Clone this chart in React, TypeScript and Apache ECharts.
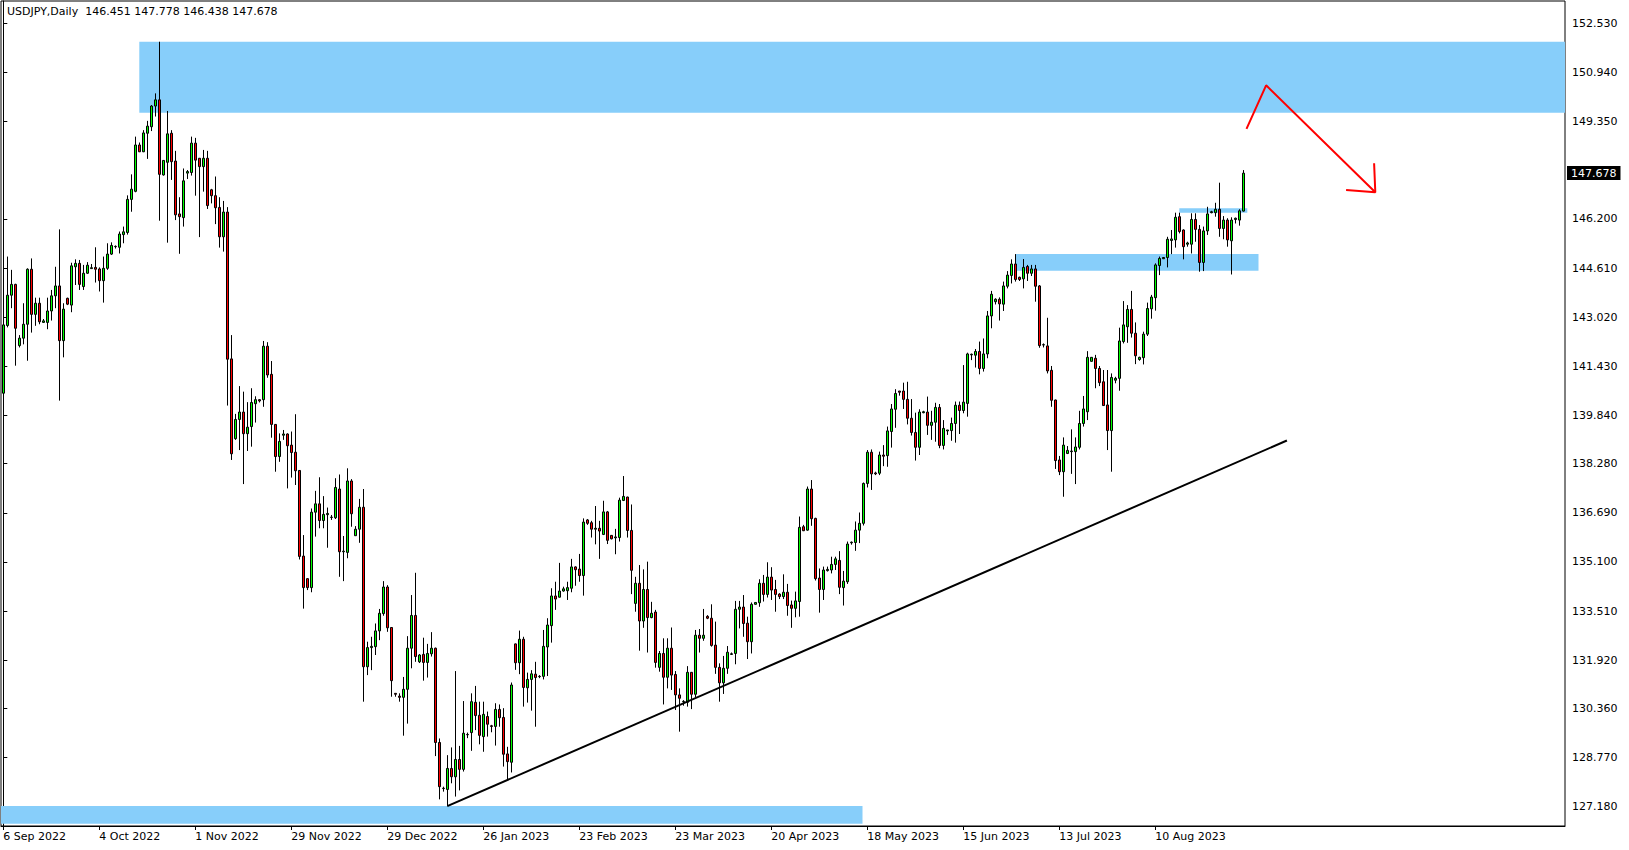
import React, { useEffect, useRef } from 'react';
import * as echarts from 'echarts';

// Date tick labels, one every 24 daily bars (broker has Sunday bars)
const dateLabels = ['6 Sep 2022', '4 Oct 2022', '1 Nov 2022', '29 Nov 2022', '29 Dec 2022', '26 Jan 2023', '23 Feb 2023', '23 Mar 2023', '20 Apr 2023', '18 May 2023', '15 Jun 2023', '13 Jul 2023', '10 Aug 2023'];
const barsPerLabel = 24;

// Price tick labels on the right axis (147.760 is hidden by the last-price box)
const priceTicks = ['152.530', '150.940', '149.350', '146.200', '144.610', '143.020', '141.430', '139.840', '138.280', '136.690', '135.100', '133.510', '131.920', '130.360', '128.770', '127.180'];

const titleText = 'USDJPY,Daily  146.451 147.778 146.438 147.678';
const lastPrice = 147.678;

const open = [
140.56,142.75,143.73,144.08,142.10,142.34,142.79,144.57,143.11,143.47,142.85,142.85,143.22,143.71,144.03,142.26,143.63,143.41,144.65,144.76,
144.01,144.44,144.59,144.63,144.58,144.20,144.60,145.06,145.30,145.28,145.69,145.76,146.83,147.09,148.59,148.37,148.97,149.18,149.85,150.05,
147.62,148.03,148.97,148.07,146.36,146.24,147.68,147.70,148.65,148.16,147.89,148.16,147.14,146.95,146.57,145.62,146.42,141.67,139.09,139.71,
139.95,139.25,139.48,140.22,140.35,140.35,142.08,141.17,139.55,138.51,139.20,139.24,138.88,138.65,138.06,135.29,134.56,134.27,136.71,136.98,
136.44,136.63,136.54,136.53,137.46,135.43,135.41,137.72,135.95,136.16,136.87,131.71,132.33,132.36,132.87,133.43,134.29,132.98,130.85,130.76,
130.72,130.98,132.31,133.37,131.87,132.11,131.85,132.13,132.31,129.26,127.77,127.74,128.42,128.15,128.71,128.39,129.51,129.58,130.56,130.14,
129.45,130.10,129.80,129.78,130.33,130.07,128.89,128.62,132.45,131.84,132.60,131.03,131.30,131.47,131.39,131.40,132.35,133.04,134.00,133.96,
134.16,134.17,134.25,134.94,134.87,134.66,136.46,136.37,136.16,136.19,135.99,136.72,135.96,135.88,135.89,137.09,137.20,136.12,133.76,134.41,
133.19,134.21,133.30,133.48,131.69,132.14,131.37,132.31,131.46,130.80,130.58,130.56,131.53,130.82,132.73,132.63,133.34,133.28,132.41,131.69,
131.19,131.66,132.11,132.14,133.57,133.64,133.12,132.52,133.73,133.78,134.41,134.05,134.61,134.21,134.06,133.98,134.12,133.71,133.60,133.82,
136.24,136.13,137.46,136.51,134.58,134.21,134.82,134.84,135.02,135.15,134.27,134.46,135.72,135.73,136.13,136.35,137.64,138.65,137.98,137.97,
138.56,138.54,139.32,140.04,140.63,140.63,140.36,139.75,139.29,138.81,139.93,139.95,139.52,139.62,140.10,138.87,139.34,139.35,139.58,140.17,
140.00,140.23,141.80,141.79,141.91,141.36,141.83,143.06,143.52,143.60,143.44,144.02,144.37,144.74,144.31,144.26,144.66,144.44,144.58,144.03,
142.12,142.09,141.30,140.34,138.40,138.02,138.61,138.67,138.67,138.81,139.58,139.96,141.59,141.69,141.36,140.93,140.18,139.35,140.98,141.04,
142.23,142.71,143.27,142.50,141.65,141.71,142.47,143.29,143.65,144.69,144.91,144.95,145.50,145.52,146.27,145.84,145.38,145.38,146.18,145.86,
144.79,145.81,146.40,146.40,146.51,145.89,146.16,145.49,146.18,146.16,146.451];

const high = [
143.06,144.98,144.55,144.10,142.44,143.47,144.60,144.92,143.65,143.65,142.96,143.65,143.90,144.65,145.86,143.47,143.65,144.78,144.89,144.87,
144.71,144.80,144.74,145.28,144.63,144.98,145.41,145.44,145.34,145.79,145.95,146.96,147.64,148.86,148.67,149.07,149.37,149.88,150.26,151.93,
148.10,149.69,149.07,148.40,146.90,147.83,147.78,148.86,148.82,148.17,148.43,148.40,147.17,147.57,146.90,146.78,146.58,142.44,139.89,140.79,
140.61,140.27,140.72,140.46,140.37,142.25,142.21,141.60,139.56,139.26,139.37,139.26,139.32,139.88,138.07,135.97,134.57,136.83,137.40,137.84,
137.23,136.86,136.62,137.81,137.93,135.94,138.13,137.78,136.26,137.14,137.46,132.52,132.68,133.11,133.58,134.48,134.35,132.99,130.86,130.85,
131.38,132.70,134.03,134.75,132.12,132.65,132.45,132.83,132.33,129.39,127.83,128.85,129.10,131.57,129.15,130.60,129.58,130.85,131.09,130.58,
130.58,130.26,129.83,130.53,130.49,130.37,129.12,131.20,132.46,132.88,132.68,131.52,131.60,131.87,131.44,132.90,133.28,134.25,134.46,135.07,
134.30,134.46,135.20,134.96,135.36,136.51,136.49,136.43,136.91,136.43,137.08,136.75,135.97,136.17,137.18,137.88,137.21,136.96,134.62,135.00,
134.86,135.11,133.81,133.55,132.22,132.63,132.63,132.98,131.57,131.01,130.63,131.73,131.54,132.90,132.93,133.58,133.38,133.73,133.17,131.82,
132.06,132.38,132.17,133.84,133.84,134.03,133.33,133.79,133.80,134.54,134.68,135.09,134.93,134.52,134.09,134.70,134.39,133.85,134.14,136.57,
136.30,137.54,137.75,136.53,134.89,134.95,134.95,135.27,135.27,135.45,134.81,135.76,135.76,136.41,136.70,137.67,138.72,138.74,138.02,138.67,
138.88,139.48,140.21,140.69,140.63,140.90,140.93,140.37,139.93,140.04,139.99,140.45,139.99,140.25,140.21,139.69,139.37,139.77,140.29,140.29,
141.47,141.87,141.84,141.99,142.23,142.33,143.22,143.87,143.63,143.66,144.17,144.51,144.89,145.06,144.33,144.90,144.71,144.71,144.71,144.06,
142.17,143.00,141.44,140.35,138.53,139.13,138.85,139.39,139.13,139.99,140.47,141.92,141.73,141.80,141.44,141.31,141.31,141.20,141.09,142.68,
143.54,143.41,143.87,142.85,141.74,142.55,143.49,143.74,144.76,144.98,144.96,145.62,145.84,146.40,146.40,145.86,145.46,146.38,146.38,146.00,
145.95,146.59,146.46,146.72,147.37,146.29,146.22,146.25,146.24,146.51,147.778];

const low = [
140.23,142.69,143.31,141.45,142.04,142.14,141.61,142.52,142.74,142.79,142.84,142.63,142.91,143.31,140.32,141.72,143.41,143.18,144.06,143.90,
143.90,144.42,144.59,144.14,143.85,143.49,144.55,145.03,145.24,145.08,145.41,145.69,146.43,147.06,148.36,148.36,148.14,149.04,149.51,146.14,
147.60,145.43,147.46,146.16,145.07,145.95,147.49,147.60,146.95,145.61,147.08,146.52,146.70,146.03,145.27,145.14,140.16,138.40,139.05,138.72,
137.62,138.69,138.83,139.61,140.26,140.12,141.06,139.12,138.02,138.34,139.05,137.48,137.83,137.59,135.18,133.59,134.19,134.12,135.92,136.19,
136.19,135.56,136.46,136.49,134.62,134.48,135.22,136.24,135.95,135.72,130.58,131.44,131.60,132.09,132.57,133.36,132.84,130.74,130.74,130.58,
129.48,129.87,131.66,131.87,131.83,131.26,131.36,132.04,128.82,127.42,127.67,127.20,127.94,127.51,127.71,128.32,129.40,128.99,129.66,129.20,
128.96,129.45,129.59,129.16,129.77,128.48,128.05,128.29,131.61,131.47,130.42,130.55,130.29,129.77,131.34,131.30,131.41,132.49,133.55,133.95,
134.14,133.87,134.12,134.33,134.46,134.01,136.30,135.89,135.67,135.20,135.97,135.68,135.83,135.35,135.76,137.07,135.89,134.06,133.49,132.23,
132.97,132.17,133.28,131.68,131.55,130.49,131.01,130.96,130.31,129.61,130.45,130.42,130.34,130.72,132.17,132.55,133.25,132.36,131.48,130.58,
130.83,131.48,132.09,131.79,132.95,132.68,131.96,132.14,133.72,133.65,133.82,133.95,133.87,133.49,133.90,133.90,133.36,132.97,133.31,133.33,
136.10,136.11,136.27,134.50,133.46,133.87,134.79,134.73,134.84,134.06,133.69,134.39,135.66,135.46,135.71,136.28,137.51,137.43,137.91,137.91,
138.20,138.18,138.80,139.44,140.48,140.05,139.55,139.19,138.38,138.56,139.91,139.21,139.05,138.99,138.78,138.74,139.21,139.02,138.96,139.24,
139.91,139.80,141.63,141.39,141.17,141.26,141.69,142.66,143.43,142.91,143.22,143.95,144.11,144.17,144.19,143.95,144.19,144.35,143.52,142.03,
142.04,141.20,140.12,138.11,137.91,137.21,138.59,137.95,137.62,138.74,139.48,139.69,141.58,140.72,140.79,140.15,138.72,138.02,140.88,140.64,
142.17,142.19,142.36,141.50,141.61,141.49,142.41,142.97,143.23,144.38,144.90,144.63,145.06,145.27,145.73,144.89,145.30,145.08,145.46,144.49,
144.51,145.68,146.38,146.27,145.62,145.54,145.30,144.40,146.05,145.98,146.438];

const close = [
142.77,143.73,144.08,142.66,142.34,142.79,144.57,143.11,143.47,142.87,142.90,143.22,143.71,144.03,142.26,143.28,143.44,144.68,144.76,144.08,
144.44,144.70,144.62,144.57,144.20,144.60,145.06,145.34,145.31,145.71,145.78,146.83,147.16,148.59,148.37,148.98,149.20,149.85,150.05,147.64,
148.09,148.95,148.05,146.33,146.27,147.43,147.73,148.65,148.10,147.89,148.16,146.63,146.95,146.56,145.62,146.42,141.66,138.60,139.71,139.95,
139.25,139.46,140.26,140.35,140.31,142.08,141.15,139.55,138.51,139.00,139.24,138.86,138.64,138.05,135.28,134.27,134.27,136.71,136.98,136.44,
136.64,136.67,136.55,137.51,135.43,135.45,137.72,136.66,136.16,136.87,131.71,132.33,132.37,132.87,133.44,134.29,132.97,131.26,130.82,130.72,
130.98,132.31,133.37,132.04,132.09,131.85,132.14,132.31,129.26,127.83,127.78,128.42,128.15,128.71,128.39,129.56,129.52,130.58,130.13,129.49,
130.17,129.85,129.78,130.33,130.06,128.88,128.64,131.12,131.84,132.60,131.04,131.30,131.48,131.36,131.40,132.37,133.06,134.00,133.90,134.16,
134.23,134.27,134.94,134.85,134.66,136.39,136.35,136.16,136.19,136.10,136.72,135.80,135.85,135.91,137.10,137.22,136.12,134.83,134.41,133.19,
134.21,133.30,133.44,131.85,132.14,131.37,132.31,131.44,130.80,130.69,130.59,131.53,130.82,132.73,132.63,132.73,133.28,132.40,131.69,131.19,
131.66,132.18,132.13,133.57,133.64,133.11,132.52,133.73,133.79,134.41,134.05,134.61,134.19,134.05,133.98,134.12,133.69,133.60,133.84,136.22,
136.11,137.46,136.50,134.56,134.21,134.84,134.86,135.02,135.20,134.28,134.48,135.68,135.74,136.13,136.35,137.64,138.65,137.95,137.95,138.56,
138.52,139.34,140.05,140.55,140.59,140.36,139.75,139.29,138.81,139.95,139.96,139.52,139.62,140.10,138.87,139.42,139.37,139.58,140.17,140.00,
140.27,141.83,141.82,141.91,141.36,141.83,143.06,143.76,143.60,143.45,144.03,144.38,144.74,144.24,144.24,144.63,144.44,144.58,144.02,142.10,
142.13,141.28,140.33,138.38,138.02,138.88,138.71,138.69,138.82,139.58,140.05,141.72,141.72,141.36,140.90,140.16,139.35,141.07,141.04,142.25,
142.77,143.27,142.50,141.77,141.72,142.47,143.30,143.67,144.71,144.92,144.95,145.54,145.55,146.25,145.79,145.30,145.42,146.18,145.86,144.79,
145.81,146.36,146.43,146.51,145.89,146.16,145.52,146.16,146.22,146.46,147.678];

// Drawn objects, in (bar index, price)
const zoneTop = [[34, 151.93], [null, 149.635]];
const zoneBottom = [[null, 127.205], [214.8, 126.63]];
const zoneMid = [[253.1, 145.063], [313.8, 144.523]];
const zoneSmall = [[294, 146.54], [311, 146.40]];
const trendLine = [[111, 127.20], [320.9, 139.03]];
const arrowPath = [[310.8, 149.11], [315.7, 150.52], [343.0, 147.06]];
const arrowHead = [[335.7, 147.13], [343.0, 147.06], [342.7, 148.0]];

const FONT = '"DejaVu Sans", Tahoma, sans-serif';

function zoneItem(z: (number | null)[][]) {
  const a: any = { yAxis: z[0][1] };
  if (z[0][0] != null) a.xAxis = z[0][0];
  const b: any = { yAxis: z[1][1] };
  if (z[1][0] != null) b.xAxis = z[1][0];
  return [a, b];
}

export default function App() {
  const ref = useRef<HTMLDivElement>(null);
  useEffect(() => {
    if (!ref.current) return;
    const chart = echarts.init(ref.current, undefined, { renderer: 'svg' });
    const candles = open.map((o, i) => [i, o, close[i], low[i], high[i]]);
    const labelIdx = dateLabels.map((_, k) => k * barsPerLabel);
    const priceVals = priceTicks.map(Number);
    chart.setOption({
      animation: false,
      backgroundColor: '#fff',
      grid: { left: 1, top: 1, right: 64, bottom: 24, show: true, borderColor: '#000', borderWidth: 1, backgroundColor: '#fff' },
      graphic: [
        { type: 'text', x: 7, y: 6, style: { text: titleText, fill: '#000', font: '11px ' + FONT } },
      ],
      xAxis: {
        type: 'value', min: -0.575, max: 390.425,
        axisLine: { show: true, lineStyle: { color: '#000', width: 1 } },
        axisTick: { show: true, customValues: labelIdx, length: 4, lineStyle: { color: '#000' } },
        axisLabel: {
          customValues: labelIdx, align: 'left', margin: 5, color: '#000', fontFamily: FONT, fontSize: 11,
          formatter: (v: number) => dateLabels[Math.round(v / barsPerLabel)] || '',
        },
        splitLine: { show: false },
      },
      yAxis: {
        type: 'value', position: 'right', min: 126.558, max: 153.248,
        axisLine: { show: true, lineStyle: { color: '#000', width: 1 } },
        axisTick: { show: true, customValues: priceVals, length: 4, lineStyle: { color: '#000' } },
        axisLabel: {
          customValues: priceVals, margin: 7, color: '#000', fontFamily: FONT, fontSize: 11,
          formatter: (v: number) => v.toFixed(3),
        },
        splitLine: { show: false },
      },
      series: [
        {
          type: 'candlestick',
          data: candles,
          barWidth: 2,
          silent: true,
          itemStyle: { color: '#00FF00', color0: '#FF0000', borderColor: '#000', borderColor0: '#000', borderWidth: 1 },
          markArea: {
            silent: true,
            z: 1,
            itemStyle: { color: '#87CEFA', opacity: 1, borderWidth: 0 },
            label: { show: false },
            data: [zoneItem(zoneTop), zoneItem(zoneBottom), zoneItem(zoneMid), zoneItem(zoneSmall)],
          },
          markLine: {
            silent: true,
            symbol: 'none',
            lineStyle: { width: 0, color: 'rgba(0,0,0,0)' },
            label: {
              show: true, position: 'end', distance: 2, formatter: lastPrice.toFixed(3),
              color: '#fff', backgroundColor: '#000', padding: [2, 4, 1, 4], fontFamily: FONT, fontSize: 11,
            },
            data: [{ yAxis: lastPrice }],
          },
        },
        {
          type: 'line', data: trendLine, symbol: 'none', silent: true, z: 5,
          lineStyle: { color: '#000', width: 2 },
        },
        {
          type: 'line', data: arrowPath, symbol: 'none', silent: true, z: 5,
          lineStyle: { color: '#FF0000', width: 2 },
        },
        {
          type: 'line', data: arrowHead, symbol: 'none', silent: true, z: 5,
          lineStyle: { color: '#FF0000', width: 2 },
        },
      ],
    });
    return () => chart.dispose();
  }, []);
  return <div ref={ref} style={{ position: 'fixed', left: 0, top: 0, width: 1629, height: 850 }} />;
}
